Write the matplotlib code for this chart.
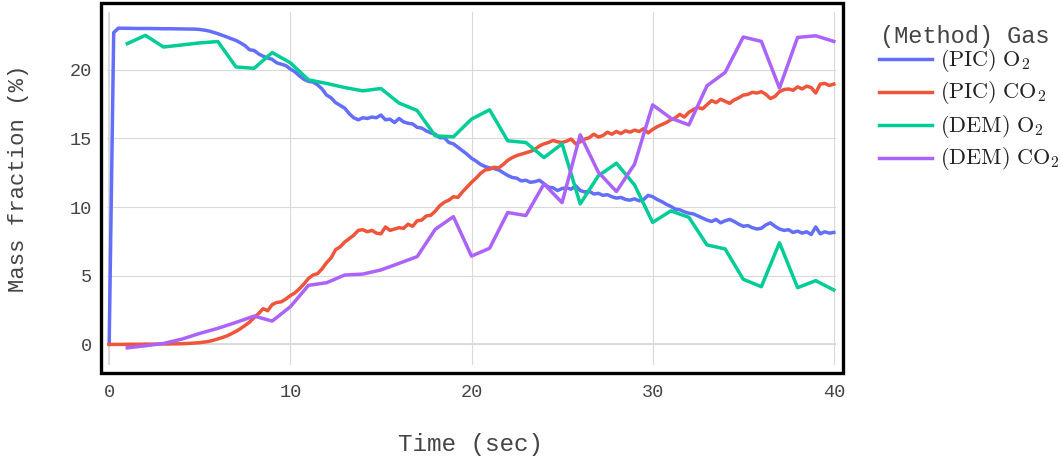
import numpy as np
import matplotlib
matplotlib.use('Agg')
import matplotlib.pyplot as plt
from matplotlib.patches import Rectangle
from matplotlib.lines import Line2D

plt.rcParams['mathtext.fontset'] = 'cm'
mono = 'Liberation Mono'

# PIC results, sampled every 0.25 s (one row per second)
t_pic = np.linspace(0, 40, 161)
pic_o2 = [
    0.0, 22.7, 23.02, 23.02,
    23.01, 23.01, 23.0, 23.0,
    23.0, 23.0, 22.99, 22.99,
    22.98, 22.98, 22.98, 22.97,
    22.97, 22.96, 22.96, 22.95,
    22.93, 22.88, 22.82, 22.72,
    22.62, 22.5, 22.38, 22.25,
    22.13, 21.95, 21.75, 21.45,
    21.4, 21.15, 20.98, 20.85,
    20.75, 20.5, 20.4, 20.3,
    20.05, 19.85, 19.55, 19.3,
    19.15, 19.1, 18.9, 18.6,
    18.15, 17.95, 17.6, 17.4,
    17.2, 16.8, 16.5, 16.35,
    16.5, 16.45, 16.55, 16.5,
    16.7, 16.35, 16.4, 16.15,
    16.45, 16.2, 16.1, 16.05,
    15.8, 15.75, 15.55, 15.4,
    15.3, 15.05, 15.05, 14.7,
    14.6, 14.35, 14.1, 13.85,
    13.55, 13.35, 13.1, 12.95,
    12.85, 12.8, 12.7, 12.5,
    12.3, 12.15, 12.1, 11.9,
    11.95, 11.8, 11.85, 11.95,
    11.7, 11.45, 11.4, 11.2,
    11.35, 11.4, 11.3, 11.55,
    11.2, 11.1, 11.15, 10.95,
    11.0, 10.85, 10.9, 10.75,
    10.65, 10.7, 10.55, 10.5,
    10.6, 10.45, 10.55, 10.85,
    10.75, 10.55, 10.4, 10.2,
    10.05, 9.85, 9.8, 9.65,
    9.55, 9.5, 9.35, 9.2,
    9.05, 8.95, 9.1, 8.85,
    9.0, 9.1, 8.95, 8.75,
    8.6, 8.65, 8.5, 8.4,
    8.45, 8.7, 8.85, 8.6,
    8.4, 8.3, 8.35, 8.15,
    8.25, 8.1, 8.2, 8.0,
    8.55, 8.05, 8.2, 8.1,
    8.15,
]
pic_co2 = [
    0.0, 0.0, 0.0, 0.0,
    0.01, 0.01, 0.01, 0.01,
    0.02, 0.02, 0.02, 0.03,
    0.03, 0.03, 0.04, 0.04,
    0.05, 0.06, 0.08, 0.1,
    0.13, 0.17, 0.22, 0.3,
    0.4, 0.5, 0.62, 0.78,
    0.95, 1.15, 1.38, 1.62,
    1.95, 2.25, 2.6, 2.45,
    2.9, 3.05, 3.1, 3.3,
    3.55, 3.75, 4.05, 4.4,
    4.8, 5.05, 5.15, 5.5,
    5.95, 6.3, 6.9, 7.1,
    7.45, 7.7, 7.95, 8.3,
    8.35, 8.2, 8.3, 8.1,
    8.05, 8.55, 8.3, 8.4,
    8.5, 8.45, 8.75, 8.6,
    9.0, 9.05, 9.35, 9.4,
    9.7, 10.1, 10.35, 10.5,
    10.75, 10.7, 11.1, 11.45,
    11.8, 12.1, 12.45, 12.7,
    12.75, 12.9, 12.85, 13.1,
    13.4, 13.6, 13.75, 13.85,
    13.95, 14.05, 14.2, 14.45,
    14.6, 14.7, 14.85, 14.75,
    14.7, 14.8, 14.95, 14.6,
    14.75, 14.95, 15.05, 15.3,
    15.1, 15.2, 15.45, 15.3,
    15.5, 15.35, 15.55, 15.45,
    15.6, 15.5, 15.7, 15.4,
    15.65, 15.85, 16.0, 16.15,
    16.35, 16.5, 16.75, 16.55,
    16.9, 17.1, 17.25, 17.15,
    17.45, 17.75, 17.6, 17.85,
    17.7, 17.55, 17.8, 17.95,
    18.15, 18.2, 18.35, 18.3,
    18.4, 18.2, 17.9, 18.05,
    18.4, 18.55, 18.6, 18.5,
    18.75, 18.6, 18.8, 18.7,
    18.3, 18.95, 19.0, 18.85,
    18.95,
]

# DEM results, one value per second
t_dem = list(range(1, 41))
dem_o2 = [21.9, 22.5, 21.65, 21.8, 21.95, 22.05, 20.2, 20.1, 21.25, 20.5,
          19.26, 19.0, 18.7, 18.46, 18.63, 17.57, 17.03, 15.18, 15.11, 16.4,
          17.08, 14.82, 14.7, 13.6, 14.6, 10.23, 12.27, 13.19, 11.61, 8.88,
          9.72, 9.25, 7.24, 6.95, 4.74, 4.2, 7.4, 4.13, 4.64, 3.96]
dem_co2 = [-0.25, -0.1, 0.07, 0.38, 0.8, 1.17, 1.6, 2.06, 1.7, 2.74,
           4.3, 4.49, 5.05, 5.12, 5.42, 5.9, 6.39, 8.38, 9.3, 6.43,
           7.0, 9.6, 9.38, 11.68, 10.32, 15.26, 12.54, 11.13, 13.12, 17.44,
           16.47, 15.98, 18.83, 19.8, 22.38, 22.06, 18.66, 22.35, 22.47, 22.06]

labels = [r'$\mathrm{(PIC)\ O_2}$', r'$\mathrm{(PIC)\ CO_2}$',
          r'$\mathrm{(DEM)\ O_2}$', r'$\mathrm{(DEM)\ CO_2}$']
colors = ['#636efa', '#EF553B', '#00cc96', '#ab63fa']
xticks = [0, 10, 20, 30, 40]
yticks = [0, 5, 10, 15, 20]

W, H = 1060, 462
fig = plt.figure(figsize=(W / 100, H / 100), dpi=100)
# plot area in pixels: left 107, right 836, top 12, bottom 365
ax = fig.add_axes([107 / W, 1 - 365 / H, (836 - 107) / W, (365 - 12) / H])

series = [(t_pic, pic_o2), (t_pic, pic_co2), (t_dem, dem_o2), (t_dem, dem_co2)]
for (x, y), c in zip(series, colors):
    ax.plot(x, y, color=c, lw=2.5, solid_joinstyle='round', zorder=3)

ax.set_xlim(-0.12, 40.12)
ax.set_ylim(-1.5, 24.2)
ax.set_xticks(xticks)
ax.set_yticks(yticks)
ax.grid(True, color='#d9d9d9', lw=0.8)
ax.axhline(0, color='#dcdcdc', lw=1.4, zorder=1)
ax.axvline(0, color='#dcdcdc', lw=1.4, zorder=1)
for s in ax.spines.values():
    s.set_visible(False)
ax.tick_params(length=0, labelsize=13.4, labelcolor='#444444')
ax.tick_params(axis='x', pad=14)
ax.tick_params(axis='y', pad=11)
for lab in ax.get_xticklabels() + ax.get_yticklabels():
    lab.set_family(mono)

fig.text(470 / W, 1 - 444 / H, 'Time (sec)', ha='center', va='center',
         family=mono, fontsize=17.5, color='#444444')
fig.text(18.5 / W, 1 - 178 / H, 'Mass fraction (%)', ha='center', va='center',
         rotation=90, family=mono, fontsize=16, color='#444444')

# thick frame around the plot
fig.add_artist(Rectangle((100.8 / W, 1 - 373.3 / H), (843.3 - 100.8) / W,
                         (373.3 - 3.3) / H, transform=fig.transFigure,
                         fill=False, ec='black', lw=2.4))

# legend
fig.text(880 / W, 1 - 36 / H, '(Method) Gas', ha='left', va='center',
         family=mono, fontsize=17, color='#444444')
rows = [59, 92, 125, 158]
for lab, c, yy in zip(labels, colors, rows):
    fig.add_artist(Line2D([879 / W, 932 / W], [1 - yy / H, 1 - yy / H],
                          transform=fig.transFigure, color=c, lw=2.5))
    fig.text(940 / W, 1 - (yy + 1) / H, lab, ha='left', va='center',
             fontsize=16, color='#222222')

fig.savefig('out.png', dpi=100)
